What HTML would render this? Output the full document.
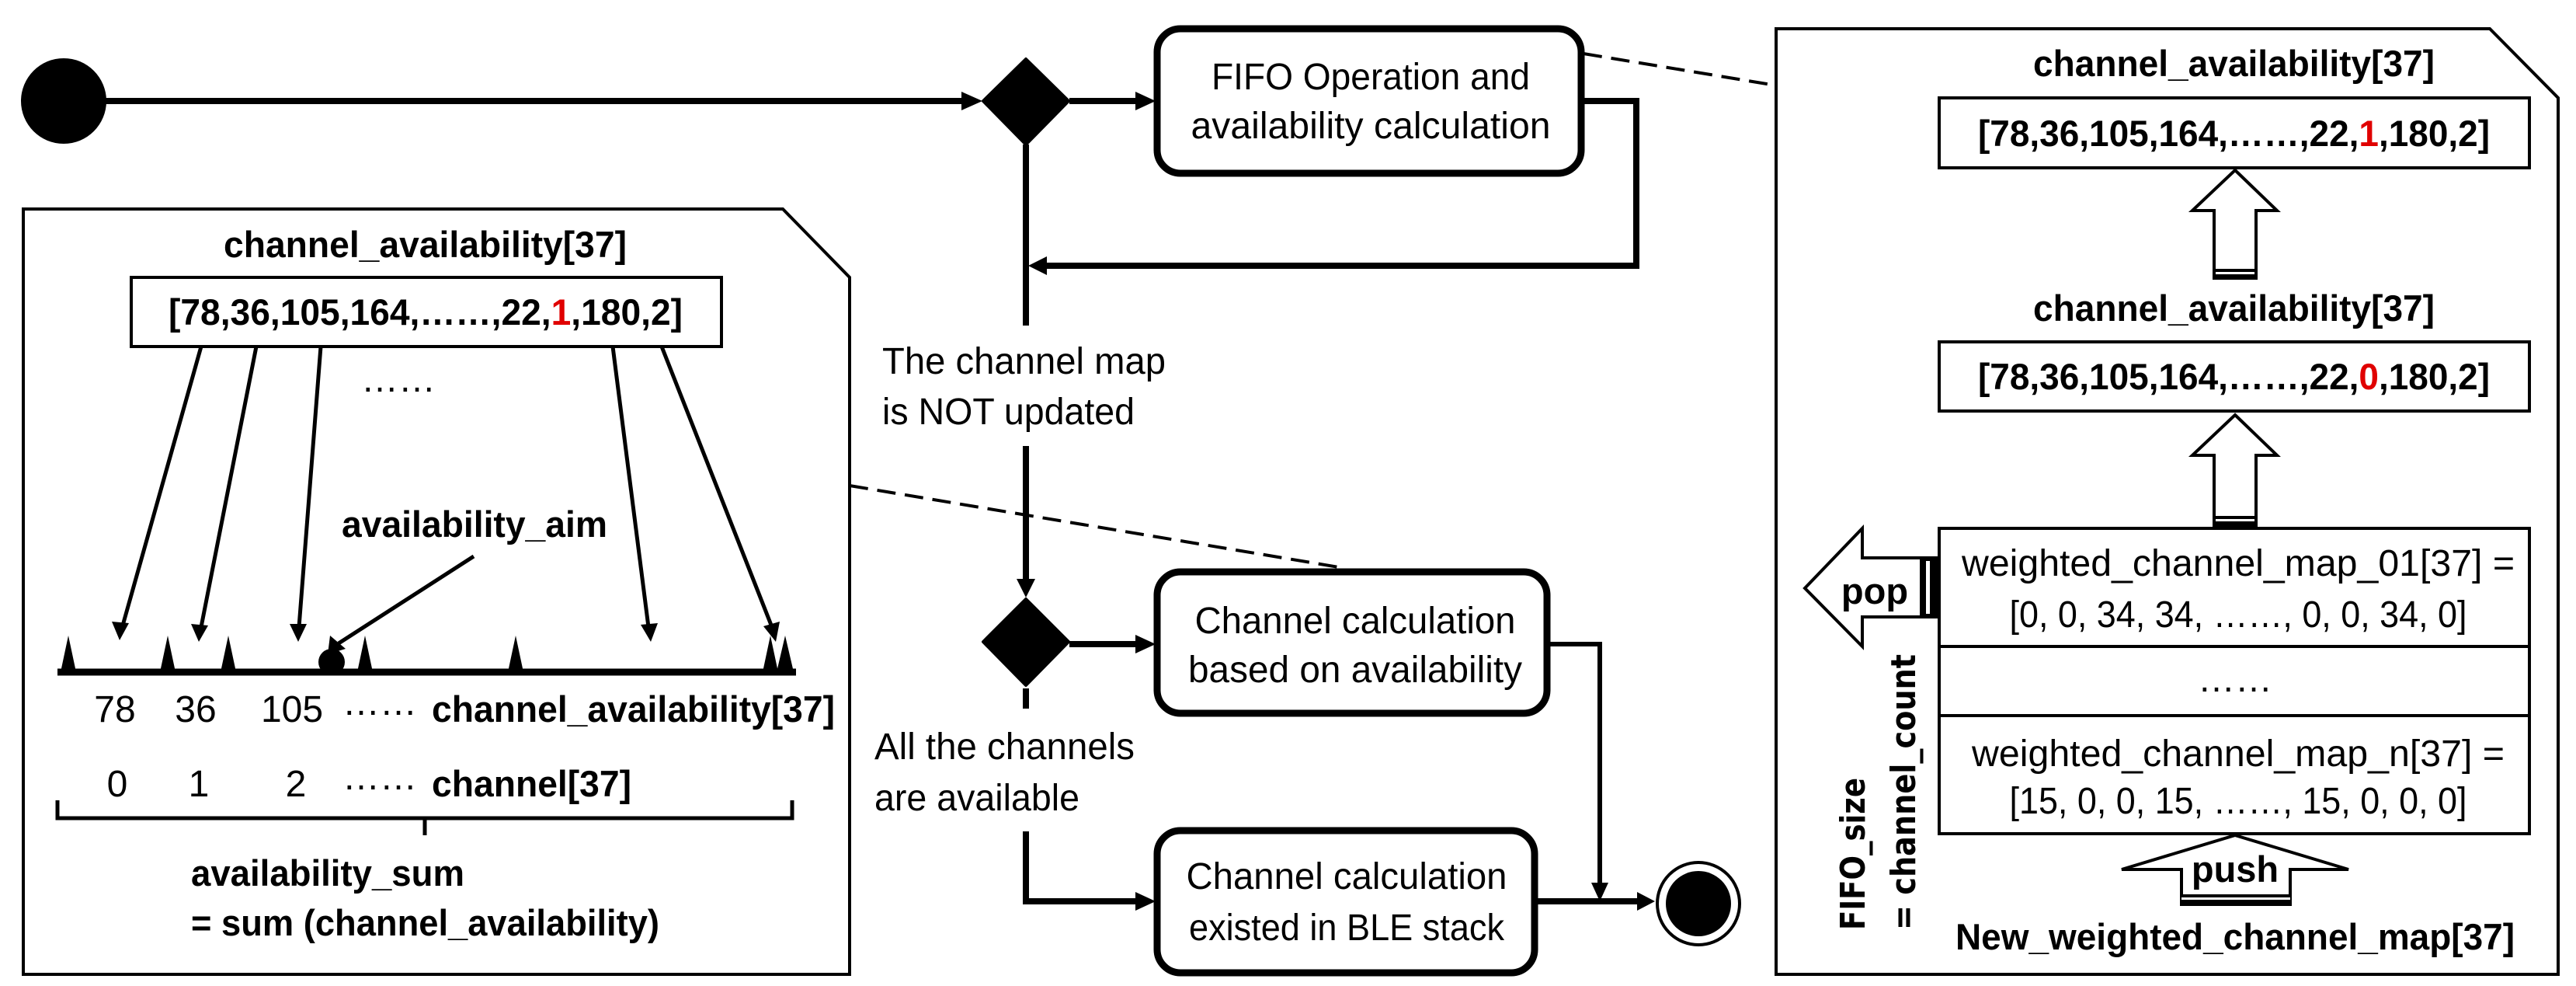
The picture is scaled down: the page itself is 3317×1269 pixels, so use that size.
<!DOCTYPE html>
<html><head><meta charset="utf-8"><style>
html,body{margin:0;padding:0;background:#fff;}
svg{display:block;}
text{font-family:"Liberation Sans",sans-serif;fill:#000;}
.b{font-weight:bold;}
</style></head><body>
<svg width="3317" height="1269" viewBox="0 0 3317 1269" xmlns="http://www.w3.org/2000/svg">
<g fill="none" stroke="#000">
<circle cx="82" cy="130" r="55" fill="#000" stroke="none"/>
<line x1="130" y1="130" x2="1240" y2="130" stroke-width="8"/>
<path d="M1238,118 L1265,130 L1238,142 z" fill="#000" stroke="none"/>
<path d="M1321,76 L1376,130 L1321,186 L1266,130 z" fill="#000" stroke="#000" stroke-width="4" stroke-linejoin="round"/>
<line x1="1377" y1="130" x2="1465" y2="130" stroke-width="8"/>
<path d="M1462,118 L1488,130 L1462,142 z" fill="#000" stroke="none"/>
<rect x="1490" y="37" width="546" height="186" rx="30" stroke-width="9"/>
<polyline points="2039,130 2107,130 2107,342 1335,342" stroke-width="8"/>
<path d="M1348,330 L1324,342 L1348,354 z" fill="#000" stroke="none"/>
<line x1="1321" y1="186" x2="1321" y2="419" stroke-width="8"/>
<line x1="1321" y1="574" x2="1321" y2="750" stroke-width="8"/>
<path d="M1309,745 L1321,769 L1333,745 z" fill="#000" stroke="none"/>
<path d="M1321,771 L1376,826 L1321,882 L1266,826 z" fill="#000" stroke="#000" stroke-width="4" stroke-linejoin="round"/>
<line x1="1377" y1="829" x2="1465" y2="829" stroke-width="8"/>
<path d="M1462,817 L1488,829 L1462,841 z" fill="#000" stroke="none"/>
<rect x="1490" y="736" width="502" height="182" rx="30" stroke-width="9"/>
<line x1="1321" y1="886" x2="1321" y2="912" stroke-width="8"/>
<polyline points="1321,1070 1321,1160 1465,1160" stroke-width="8"/>
<path d="M1462,1148 L1488,1160 L1462,1172 z" fill="#000" stroke="none"/>
<rect x="1490" y="1069" width="486" height="183" rx="30" stroke-width="9"/>
<polyline points="1994,829 2060,829 2060,1140" stroke-width="6"/>
<path d="M2049,1136 L2060,1160 L2071,1136 z" fill="#000" stroke="none"/>
<line x1="1978" y1="1160" x2="2110" y2="1160" stroke-width="8"/>
<path d="M2108,1148 L2131,1160 L2108,1172 z" fill="#000" stroke="none"/>
<circle cx="2187" cy="1163" r="53" stroke-width="4"/>
<circle cx="2187" cy="1163" r="42" fill="#000" stroke="none"/>
<line x1="2039" y1="69" x2="2287" y2="110" stroke-width="4" stroke-dasharray="24,12"/>
<line x1="1094" y1="625" x2="1730" y2="731" stroke-width="4" stroke-dasharray="24,12"/>
<path d="M30,269 L1008,269 L1094,357 L1094,1254 L30,1254 z" stroke-width="4" fill="#fff"/>
<rect x="169" y="357" width="760" height="89" stroke-width="4"/>
<g stroke-width="5">
<line x1="259" y1="446" x2="158" y2="805"/>
<line x1="330" y1="446" x2="259" y2="807"/>
<line x1="413" y1="446" x2="385" y2="807"/>
<line x1="789" y1="446" x2="835" y2="807"/>
<line x1="852" y1="446" x2="994" y2="807"/>
<line x1="610" y1="716" x2="436" y2="828"/>
</g>
<g fill="#000" stroke="none">
<path d="M144,800 L154,824 L166,802 z"/>
<path d="M246,803 L256,826 L268,805 z"/>
<path d="M373,803 L384,826 L395,803 z"/>
<path d="M825,804 L838,826 L847,802 z"/>
<path d="M983,806 L999,826 L1004,800 z"/>
<path d="M425,818 L422,842 L445,835 z"/>
</g>
<line x1="74" y1="865" x2="1025" y2="865" stroke-width="9"/>
<g fill="#000" stroke="none">
<path d="M78,865 L88,818 L98,865 z"/>
<path d="M206,865 L216,818 L226,865 z"/>
<path d="M284,865 L294,818 L304,865 z"/>
<path d="M460,865 L470,818 L480,865 z"/>
<path d="M654,865 L664,818 L674,865 z"/>
<path d="M982,865 L992,818 L1002,865 z"/>
<path d="M1000,865 L1011,818 L1022,865 z"/>
<circle cx="427" cy="852" r="17"/>
</g>
<path d="M74,1030 L74,1053 L1020,1053 L1020,1030 M547,1053 L547,1075" stroke-width="5"/>
<path d="M2287,37 L3206,37 L3294,126 L3294,1254 L2287,1254 z" stroke-width="4" fill="#fff"/>
<rect x="2497" y="126" width="760" height="90" stroke-width="4"/>
<rect x="2497" y="440" width="760" height="89" stroke-width="4"/>
<path d="M2878,219 L2932,271 L2905,271 L2905,358 L2851,358 L2851,271 L2823,271 z" stroke-width="4" fill="#fff"/>
<rect x="2851" y="346" width="54" height="12" fill="#000" stroke="none"/>
<rect x="2853" y="350" width="50" height="3" fill="#fff" stroke="none"/>
<path d="M2878,534 L2932,586 L2905,586 L2905,676 L2851,676 L2851,586 L2823,586 z" stroke-width="4" fill="#fff"/>
<rect x="2851" y="664" width="54" height="12" fill="#000" stroke="none"/>
<rect x="2853" y="668" width="50" height="3" fill="#fff" stroke="none"/>
<rect x="2497" y="680" width="760" height="393" stroke-width="4"/>
<line x1="2497" y1="832" x2="3257" y2="832" stroke-width="4"/>
<line x1="2497" y1="921" x2="3257" y2="921" stroke-width="4"/>
<path d="M2324,757 L2398,680 L2398,718 L2497,718 L2497,794 L2398,794 L2398,832 z" stroke-width="4" fill="#fff"/>
<rect x="2472" y="718" width="25" height="76" fill="#000" stroke="none"/>
<rect x="2480" y="722" width="5" height="68" fill="#fff" stroke="none"/>
<path d="M2878,1075 L3024,1119 L2949,1119 L2949,1164 L2809,1164 L2809,1119 L2732,1119 z" stroke-width="4" fill="#fff"/>
<rect x="2809" y="1151" width="140" height="13" fill="#000" stroke="none"/>
<rect x="2809" y="1155" width="140" height="3" fill="#fff" stroke="none"/>
</g>
<g font-size="48" text-anchor="middle">
<text x="1765" y="115" textLength="410" lengthAdjust="spacingAndGlyphs">FIFO Operation and</text>
<text x="1765" y="178" textLength="463" lengthAdjust="spacingAndGlyphs">availability calculation</text>
<text x="1745" y="815" textLength="413" lengthAdjust="spacingAndGlyphs">Channel calculation</text>
<text x="1745" y="878" textLength="430" lengthAdjust="spacingAndGlyphs">based on availability</text>
<text x="1734" y="1144" textLength="413" lengthAdjust="spacingAndGlyphs">Channel calculation</text>
<text x="1734" y="1210" textLength="406" lengthAdjust="spacingAndGlyphs">existed in BLE stack</text>
</g>
<g font-size="48">
<text x="1136" y="481" textLength="365" lengthAdjust="spacingAndGlyphs">The channel map</text>
<text x="1136" y="546" textLength="325" lengthAdjust="spacingAndGlyphs">is NOT updated</text>
<text x="1126" y="977" textLength="335" lengthAdjust="spacingAndGlyphs">All the channels</text>
<text x="1126" y="1043" textLength="264" lengthAdjust="spacingAndGlyphs">are available</text>
</g>
<g font-size="47" class="b">
<text x="288" y="331" textLength="519" lengthAdjust="spacingAndGlyphs">channel_availability[37]</text>
<text x="217" y="418" textLength="662" lengthAdjust="spacingAndGlyphs">[78,36,105,164,……,22,<tspan fill="#e00000">1</tspan>,180,2]</text>
<text x="440" y="691" textLength="342" lengthAdjust="spacingAndGlyphs">availability_aim</text>
<text x="556" y="929" textLength="519" lengthAdjust="spacingAndGlyphs">channel_availability[37]</text>
<text x="556" y="1025" textLength="257" lengthAdjust="spacingAndGlyphs">channel[37]</text>
<text x="246" y="1140" textLength="352" lengthAdjust="spacingAndGlyphs">availability_sum</text>
<text x="246" y="1204" textLength="603" lengthAdjust="spacingAndGlyphs">= sum (channel_availability)</text>
<text x="2618" y="98" textLength="517" lengthAdjust="spacingAndGlyphs">channel_availability[37]</text>
<text x="2547" y="188" textLength="659" lengthAdjust="spacingAndGlyphs">[78,36,105,164,……,22,<tspan fill="#e00000">1</tspan>,180,2]</text>
<text x="2618" y="413" textLength="517" lengthAdjust="spacingAndGlyphs">channel_availability[37]</text>
<text x="2547" y="501" textLength="659" lengthAdjust="spacingAndGlyphs">[78,36,105,164,……,22,<tspan fill="#e00000">0</tspan>,180,2]</text>
<text x="2518" y="1222" textLength="720" lengthAdjust="spacingAndGlyphs">New_weighted_channel_map[37]</text>
<text x="2414" y="777" text-anchor="middle">pop</text>
<text x="2878" y="1135" text-anchor="middle">push</text>
</g>
<g font-size="48" text-anchor="middle">
<text x="148" y="929">78</text>
<text x="252" y="929">36</text>
<text x="376" y="929">105</text>
<text x="151" y="1025">0</text>
<text x="256" y="1025">1</text>
<text x="381" y="1025">2</text>
<text x="489" y="920">……</text>
<text x="489" y="1016">……</text>
<text x="513" y="504">……</text>
<text x="2882" y="741" textLength="712" lengthAdjust="spacingAndGlyphs">weighted_channel_map_01[37] =</text>
<text x="2882" y="807" textLength="589" lengthAdjust="spacingAndGlyphs">[0, 0, 34, 34, ……, 0, 0, 34, 0]</text>
<text x="2878" y="890">……</text>
<text x="2882" y="986" textLength="686" lengthAdjust="spacingAndGlyphs">weighted_channel_map_n[37] =</text>
<text x="2882" y="1047" textLength="589" lengthAdjust="spacingAndGlyphs">[15, 0, 0, 15, ……, 15, 0, 0, 0]</text>
</g>
<g font-size="44" class="b">
<text transform="translate(2401,1197) rotate(-90)" textLength="196" lengthAdjust="spacingAndGlyphs" style="font-family:'DejaVu Sans',sans-serif">FIFO_size</text>
<text transform="translate(2466,1197) rotate(-90)" textLength="355" lengthAdjust="spacingAndGlyphs" style="font-family:'DejaVu Sans',sans-serif">= channel_count</text>
</g>
</svg>
</body></html>
